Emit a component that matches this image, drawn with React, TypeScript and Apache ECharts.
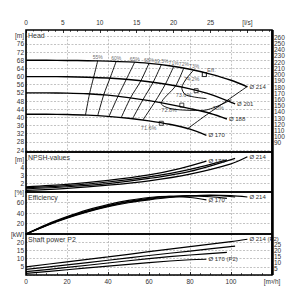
import React, { useEffect, useRef } from "react";
import * as echarts from "echarts";

// ---------- data (flow in m³/h) ----------
const q214 = [0, 10, 20, 30, 40, 50, 60, 70, 80, 90, 100, 108];
const h214 = [68, 68, 67.9, 67.8, 67.6, 67.2, 66.5, 65.3, 63.6, 61.2, 58.2, 55];
const q201 = [0, 10, 20, 30, 40, 50, 60, 70, 80, 90, 102];
const h201 = [60, 60, 59.9, 59.7, 59.3, 58.6, 57.5, 56, 54, 51.3, 46.6];
const q188 = [0, 10, 20, 30, 40, 50, 60, 70, 80, 90, 98];
const h188 = [52, 52, 51.9, 51.6, 50.9, 49.7, 48.2, 46.4, 44.3, 41.9, 39.2];
const q170 = [0, 10, 20, 30, 40, 50, 60, 70, 80, 88];
const h170 = [41.5, 41.5, 41.4, 41.1, 40.5, 39.6, 38.3, 36.6, 34.2, 31.2];

const iso55 = [[29, 41.1], [31, 51.6], [33, 59.7], [35, 67.8]];
const iso60 = [[35, 40.9], [38, 51.3], [41, 59.3], [44, 67.5]];
const iso65 = [[40.5, 40.5], [45, 50.6], [49, 58.8], [53, 67.0]];
const iso68 = [[46.5, 40.0], [51, 49.6], [56, 57.9], [60, 66.5]];
const iso69 = [[52, 39.4], [57, 48.6], [62, 57.2], [66, 65.8]];
const iso71 = [[57, 38.7], [63, 47.8], [68, 56.3], [72, 64.9]];
const iso72 = [[100, 48.6], [86, 43.4], [72, 44], [66, 46.8], [73, 55.5], [77, 64.3]];
const iso73 = [[88, 49.2], [78, 51], [76, 54.4], [82, 63.4]];
const iso70r = [[78.5, 34.2], [88, 41.2], [98, 48.2], [108, 55.2]];

const isoNames = ["55%", "60%", "65%", "68%", "69.5%", "71%", "72%", "73%"];
const isoLines = [iso55, iso60, iso65, iso68, iso69, iso71, iso72, iso73];

const bepQ = [87, 83, 76, 66];
const bepH = [61, 53.1, 46, 37.1];
const bepLabels = ["74.2%", "73.6%", "72.8%", "71.6%"];

const nq214 = [0, 20, 40, 60, 80, 100, 108];
const n214 = [1.15, 1.4, 1.8, 2.35, 3.2, 4.5, 5.4];
const nq201 = [0, 20, 40, 60, 80, 102];
const n201 = [1.32, 1.6, 2.0, 2.65, 3.55, 5.2];
const nq188 = [0, 20, 40, 60, 80, 98];
const n188 = [1.48, 1.75, 2.2, 2.85, 3.8, 5.0];
const nq170 = [0, 20, 40, 60, 75, 88];
const n170 = [1.6, 1.9, 2.4, 3.1, 3.9, 4.85];

const e214 = [0, 16, 30, 42, 52, 59.5, 65, 69.5, 72.5, 74, 73, 70.5];
const e201 = [0, 16.5, 31, 43, 53, 61, 66.5, 70.5, 73.3, 73.3, 70.5];
const e188 = [0, 17, 32, 44, 54, 62, 68, 71.5, 72.8, 71, 68];
const e170 = [0, 18, 33, 46, 56, 64, 69.5, 71.5, 69.5, 65];

const pq214 = [0, 20, 40, 60, 80, 100, 108];
const p214 = [5.0, 8.0, 11.0, 14.2, 17.3, 20.4, 21.8];
const pq201 = [0, 20, 40, 60, 80, 102];
const p201 = [3.4, 6.2, 9.0, 11.9, 14.6, 17.6];
const pq188 = [0, 20, 40, 60, 80, 98];
const p188 = [2.0, 4.6, 7.3, 10.0, 12.2, 13.8];
const pq170 = [0, 20, 40, 60, 80, 88];
const p170 = [1.0, 3.2, 5.4, 7.6, 9.3, 9.6];

// ---------- helpers ----------
const zip = (a: number[], b: number[]) => a.map((v, i) => [v, b[i]]);
const FONT = "Liberation Sans";
const TXT = "#333";
const lbl = { fontSize: 6.5, color: TXT, fontFamily: FONT };

const L = 26;
const Wd = 246;

function App() {
  const ref = useRef<HTMLDivElement>(null);
  useEffect(() => {
    if (!ref.current) return;
    const chart = echarts.init(ref.current, undefined, { renderer: "svg" });

    const gridDefs = [
      { top: 35.8, height: 114.2 }, // head
      { top: 31.1, height: 118.1 }, // ft labels
      { top: 152, height: 39.5 }, // npsh
      { top: 192, height: 42 }, // eff
      { top: 234, height: 41 }, // shaft
      { top: 238.3, height: 36.7 }, // hp
    ];
    const grid = gridDefs.map((g) => ({ left: L, width: Wd, top: g.top, height: g.height, show: false }));

    const split = { show: true, lineStyle: { color: "#9a9a9a", type: [2, 1.5], width: 0.6 } };
    const hiddenX = (gi: number, withSplit: boolean) => ({
      type: "value", gridIndex: gi, min: 0, max: 120, interval: 20,
      axisLine: { show: false }, axisTick: { show: false }, axisLabel: { show: false },
      splitLine: withSplit ? split : { show: false },
    });

    const xAxis: any[] = [
      hiddenX(0, true),
      {
        type: "value", gridIndex: 0, position: "top", offset: 5.8, min: 0, max: 120 / 3.6, interval: 5,
        axisLine: { show: false },
        axisTick: { show: true, inside: true, length: 3, lineStyle: { color: "#000", width: 0.8 } },
        minorTick: { show: true, splitNumber: 5, length: 2, lineStyle: { color: "#000", width: 0.6 } },
        axisLabel: { ...lbl, margin: 4, formatter: (v: number) => (Math.abs(v - 30) < 0.01 ? "[l/s]" : String(Math.round(v))), showMaxLabel: false },
        splitLine: { show: false },
      },
      hiddenX(1, false),
      hiddenX(2, true),
      hiddenX(3, true),
      {
        type: "value", gridIndex: 4, min: 0, max: 120, interval: 20,
        axisLine: { show: false },
        axisTick: { show: true, inside: true, length: 3, lineStyle: { color: "#000", width: 0.8 } },
        minorTick: { show: true, splitNumber: 4, length: 2, lineStyle: { color: "#000", width: 0.6 } },
        axisLabel: { ...lbl, margin: 3, formatter: (v: number) => (v === 120 ? "[m³/h]" : String(v)) },
        splitLine: split,
      },
      hiddenX(5, false),
    ];

    const yBase = (gi: number, min: number, max: number, interval: number, fmt: (v: number) => string, pos = "left", withSplit = true, rich?: any) => ({
      type: "value", gridIndex: gi, min, max, interval, position: pos,
      axisLine: { show: false }, axisTick: { show: false },
      axisLabel: { ...lbl, margin: 2, formatter: fmt, rich },
      splitLine: withSplit ? split : { show: false },
    });

    const yAxis: any[] = [
      yBase(0, 24, 80, 4, (v) => (v === 80 ? "[m]" : String(v))),
      yBase(1, 80, 270, 10, (v) => (v === 270 ? "[ft]" : String(v)), "right", false),
      yBase(2, 1, 6, 1, (v) => (v === 6 ? "" : v === 5 ? "[m]" : v === 1 ? "{u|1}" : String(v)), "left", true, { u: { ...lbl, padding: [0, 0, 5, 0] } }),
      yBase(3, 0, 80, 20, (v) => (v === 0 ? "" : v === 80 ? "[%]" : String(v))),
      yBase(4, 0, 25, 5, (v) => (v === 0 ? "" : v === 25 ? "[kW]" : String(v))),
      yBase(5, 0, 30, 5, (v) => (v === 0 ? "" : v === 30 ? "[hp]" : String(v)), "right", false),
    ];

    const lineS = (name: string, data: any[], xi: number, yi: number, width: number, endLabel?: string) => ({
      type: "line", name, data, xAxisIndex: xi, yAxisIndex: yi, showSymbol: false, smooth: 0.3,
      lineStyle: { color: "#000", width }, silent: true,
      endLabel: endLabel ? { show: true, formatter: endLabel, ...lbl, fontSize: 6, distance: 2 } : undefined,
    });
    const small = { ...lbl, fontSize: 5.5 };

    const series: any[] = [
      lineS("214", zip(q214, h214), 0, 0, 1.4, "Ø 214"),
      lineS("201", zip(q201, h201), 0, 0, 1.4, "Ø 201"),
      lineS("188", zip(q188, h188), 0, 0, 1.4, "Ø 188"),
      lineS("170", zip(q170, h170), 0, 0, 1.4, "Ø 170"),
      ...isoLines.map((pts, i) => lineS(isoNames[i], pts, 0, 0, 0.9)),
      lineS("70%", iso70r, 0, 0, 0.9),
      {
        type: "scatter", xAxisIndex: 0, yAxisIndex: 0, symbolSize: 0.1, silent: true,
        itemStyle: { color: "transparent" },
        data: [
          ...isoLines.map((pts, i) => ({
            value: pts[pts.length - 1],
            label: { show: true, position: "top", distance: 1, formatter: isoNames[i], ...lbl, fontSize: 5, color: "#444" },
          })),
          { value: iso70r[2], label: { show: true, position: [-14, 4], formatter: "70%", ...small } },
        ],
      },
      {
        type: "scatter", xAxisIndex: 0, yAxisIndex: 0, symbol: "rect", symbolSize: 4, silent: true,
        itemStyle: { color: "#fff", borderColor: "#000", borderWidth: 0.9 },
        data: [
          ...bepQ.map((q, i) => ({ value: [q, bepH[i]], label: { show: true, position: [-18, 4], formatter: bepLabels[i], ...small } })),
          { value: [bepQ[0], bepH[0]], label: { show: true, position: [5, -5], formatter: "Eff.", ...lbl, fontSize: 6 } },
        ],
      },
      lineS("n214", zip(nq214, n214), 3, 2, 1.2, "Ø 214"),
      lineS("n201", zip(nq201, n201), 3, 2, 1.2),
      lineS("n188", zip(nq188, n188), 3, 2, 1.2),
      lineS("n170", zip(nq170, n170), 3, 2, 1.2, "Ø 170"),
      lineS("e214", zip(q214, e214), 4, 3, 1.2, "Ø 214"),
      lineS("e201", zip(q201, e201), 4, 3, 1.2),
      lineS("e188", zip(q188, e188), 4, 3, 1.2),
      lineS("e170", zip(q170, e170), 4, 3, 1.2, "Ø 170"),
      lineS("p214", zip(pq214, p214), 5, 4, 1.2, "Ø 214 (P2)"),
      lineS("p201", zip(pq201, p201), 5, 4, 1.2),
      lineS("p188", zip(pq188, p188), 5, 4, 1.2),
      lineS("p170", zip(pq170, p170), 5, 4, 1.2, "Ø 170 (P2)"),
    ];

    const frame = (y1: number, y2: number) => ({
      type: "rect", shape: { x: L, y: y1, width: Wd, height: y2 - y1 },
      style: { fill: "none", stroke: "#000", lineWidth: 1.6 }, silent: true, z: 100,
    });
    const title = (t: string, y: number) => ({
      type: "text", x: L + 2, y, z: 101,
      style: { text: t, fontSize: 7, fill: TXT, fontFamily: FONT, backgroundColor: "#fff" },
    });

    chart.setOption({
      animation: false,
      grid,
      xAxis,
      yAxis,
      series,
      graphic: [
        frame(30, 152), frame(152, 192), frame(192, 234), frame(234, 275),
        { type: "line", shape: { x1: L + Wd + 0.5, y1: 30, x2: L + Wd + 0.5, y2: 275 }, style: { stroke: "#000", lineWidth: 2.5 }, z: 100 },
        title("Head", 31.5), title("NPSH-values", 153.5), title("Efficiency", 193.5), title("Shaft power P2", 235.5),
      ],
    });
    return () => chart.dispose();
  }, []);
  return <div ref={ref} style={{ position: "absolute", left: 0, top: 0, width: 298, height: 307, background: "#fff" }} />;
}

export default App;
